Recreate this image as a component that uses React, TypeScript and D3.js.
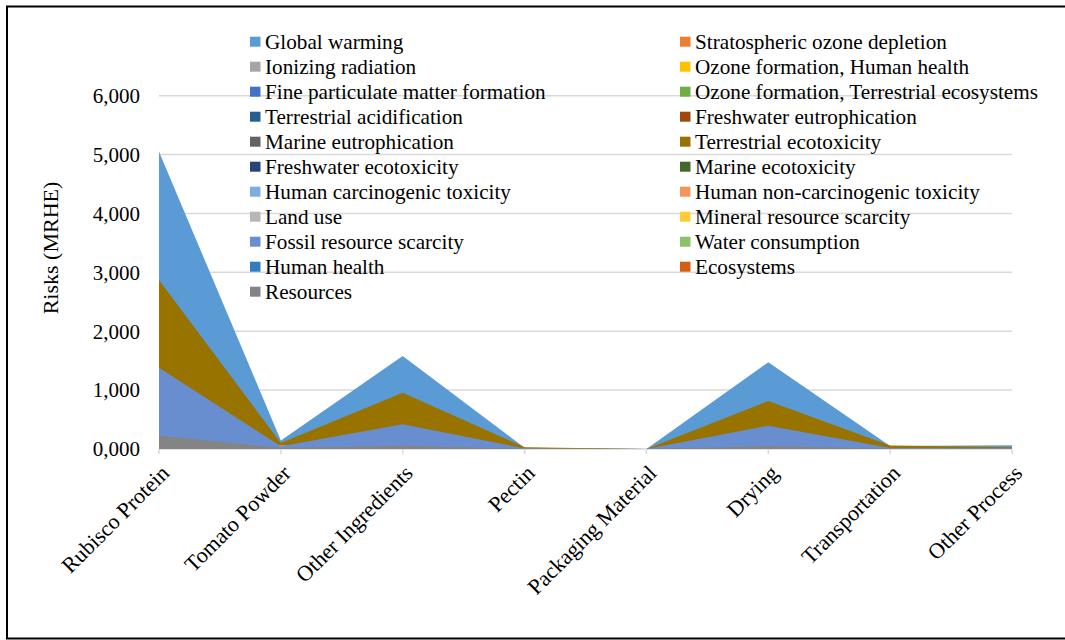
import React from "react";
import * as d3 from "d3";

const categories = [
  "Rubisco Protein",
  "Tomato Powder",
  "Other Ingredients",
  "Pectin",
  "Packaging Material",
  "Drying",
  "Transportation",
  "Other Process",
];

const seriesNames = [
  "Global warming",
  "Stratospheric ozone depletion",
  "Ionizing radiation",
  "Ozone formation, Human health",
  "Fine particulate matter formation",
  "Ozone formation, Terrestrial ecosystems",
  "Terrestrial acidification",
  "Freshwater eutrophication",
  "Marine eutrophication",
  "Terrestrial ecotoxicity",
  "Freshwater ecotoxicity",
  "Marine ecotoxicity",
  "Human carcinogenic toxicity",
  "Human non-carcinogenic toxicity",
  "Land use",
  "Mineral resource scarcity",
  "Fossil resource scarcity",
  "Water consumption",
  "Human health",
  "Ecosystems",
  "Resources",
];

const seriesColors = [
  "#5B9BD5", "#ED7D31", "#A5A5A5", "#FFC000", "#4472C4", "#70AD47",
  "#255E91", "#9E480E", "#636363", "#997300", "#264478", "#43682B",
  "#7CAFDD", "#F1975A", "#B7B7B7", "#FFCD33", "#698ED0", "#8CC168",
  "#327DC2", "#D26012", "#848484",
];

// Risk values per impact category, one entry per process stage
const globalWarming = [5050, 145, 1580, 20, 0, 1475, 50, 65];
const stratosphericOzone = [3, 0.2, 1, 0, 0, 1, 0.1, 0.1];
const ionizingRadiation = [6, 0.5, 2, 0.1, 0, 2, 0.2, 0.2];
const ozoneHumanHealth = [4, 0.3, 1, 0.1, 0, 1, 0.3, 0.1];
const finePM = [20, 2, 6, 0.5, 0, 5, 1, 0.5];
const ozoneTerrestrial = [5, 0.4, 1.5, 0.1, 0, 1.2, 0.3, 0.1];
const terrestrialAcidification = [12, 1, 4, 0.3, 0, 3, 0.6, 0.3];
const freshwaterEutrophication = [8, 1, 3, 0.2, 0, 2, 0.2, 0.2];
const marineEutrophication = [2, 0.2, 1, 0.1, 0, 0.5, 0.1, 0.1];
const terrestrialEcotoxicity = [2870, 100, 955, 30, 0, 815, 60, 30];
const freshwaterEcotoxicity = [10, 1, 4, 0.3, 0, 3, 0.5, 0.3];
const marineEcotoxicity = [14, 1.5, 5, 0.4, 0, 4, 0.7, 0.4];
const humanCarcinogenic = [40, 4, 12, 1, 0, 10, 1.5, 1];
const humanNonCarcinogenic = [180, 65, 40, 5, 0, 35, 8, 5];
const landUse = [60, 6, 20, 2, 0, 15, 2, 1];
const mineralResource = [4, 0.4, 1.5, 0.1, 0, 1, 0.2, 0.1];
const fossilResource = [1380, 45, 420, 10, 0, 395, 15, 10];
const waterConsumption = [3, 0.3, 1, 0.1, 0, 1, 0.1, 0.1];
const humanHealth = [90, 8, 30, 1, 0, 25, 2, 1];
const ecosystems = [6, 0.6, 2, 0.1, 0, 1.5, 0.2, 0.1];
const resources = [230, 15, 55, 2, 0, 50, 5, 3];

const seriesValues = [
  globalWarming, stratosphericOzone, ionizingRadiation, ozoneHumanHealth,
  finePM, ozoneTerrestrial, terrestrialAcidification, freshwaterEutrophication,
  marineEutrophication, terrestrialEcotoxicity, freshwaterEcotoxicity,
  marineEcotoxicity, humanCarcinogenic, humanNonCarcinogenic, landUse,
  mineralResource, fossilResource, waterConsumption, humanHealth, ecosystems,
  resources,
];

const yTicks = [0, 1000, 2000, 3000, 4000, 5000, 6000];
const yTitle = "Risks (MRHE)";

const W = 1065;
const H = 640;
const FONT = "'Liberation Serif', 'Times New Roman', serif";
const GRID = "#d9d9d9";

// Thousands shown with a leading zero group, e.g. 0,000 / 1,000
const fmt = (v: number) => {
  const s = String(Math.round(v)).padStart(4, "0");
  return s.slice(0, s.length - 3) + "," + s.slice(-3);
};

export default function App() {
  const x = d3.scalePoint<string>().domain(categories).range([159, 1012]);
  const y = d3.scaleLinear().domain([0, 6000]).range([449, 95.7]);

  const area = d3
    .area<number>()
    .x((_, i) => x(categories[i]) as number)
    .y0(y(0))
    .y1((d) => y(d));

  return (
    <svg
      width={W}
      height={H}
      style={{ position: "absolute", left: 0, top: 0, background: "#fff" }}
      fontFamily={FONT}
    >
      <rect x={0} y={0} width={W} height={H} fill="#fff" />
      {/* outer frame */}
      <path d={`M${W + 2},6.5 H7 V638.5 H${W + 2}`} fill="none" stroke="#000" strokeWidth={2} />

      {/* gridlines */}
      {yTicks.map((t) => (
        <line
          key={t}
          x1={159}
          x2={1012}
          y1={y(t)}
          y2={y(t)}
          stroke={GRID}
          strokeWidth={1.5}
        />
      ))}
      {/* category ticks */}
      {categories.map((c) => (
        <line
          key={c}
          x1={x(c)}
          x2={x(c)}
          y1={y(0)}
          y2={y(0) + 5}
          stroke={GRID}
          strokeWidth={1.5}
        />
      ))}

      {/* overlapping areas, first series drawn at the back */}
      {seriesValues.map((vals, i) => (
        <path key={seriesNames[i]} d={area(vals) as string} fill={seriesColors[i]} />
      ))}

      {/* y tick labels */}
      {yTicks.map((t) => (
        <text
          key={t}
          x={140}
          y={y(t)}
          dy="0.35em"
          textAnchor="end"
          fontSize={21}
          fill="#000"
        >
          {fmt(t)}
        </text>
      ))}

      {/* y title */}
      <text
        transform={`translate(50,248) rotate(-90)`}
        textAnchor="middle"
        dy="0.35em"
        fontSize={22}
        fill="#000"
      >
        {yTitle}
      </text>

      {/* x labels */}
      {categories.map((c) => (
        <text
          key={c}
          transform={`translate(${(x(c) as number) + 6},${y(0) + 20}) rotate(-45)`}
          textAnchor="end"
          dy="0.35em"
          fontSize={22}
          fill="#000"
        >
          {c}
        </text>
      ))}

      {/* legend */}
      {seriesNames.map((name, i) => {
        const col = i % 2;
        const row = Math.floor(i / 2);
        const sx = col === 0 ? 250 : 680;
        const cy = 41.7 + row * 25;
        return (
          <g key={name}>
            <rect x={sx} y={cy - 5} width={10.5} height={10} fill={seriesColors[i]} />
            <text x={sx + 15} y={cy} dy="0.35em" fontSize={21.2} fill="#000">
              {name}
            </text>
          </g>
        );
      })}
    </svg>
  );
}
